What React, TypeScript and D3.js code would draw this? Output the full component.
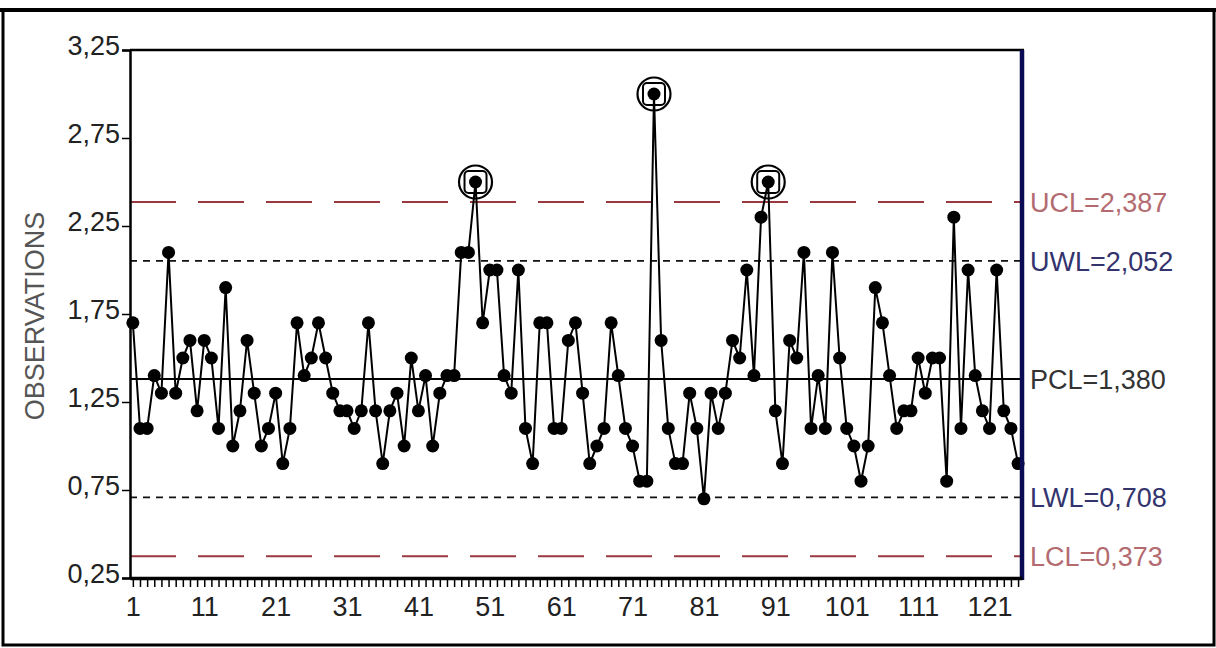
import React, { useEffect, useRef } from 'react';
import * as d3 from 'd3';

// observation values, one per sample (1..125)
const observations: number[] = [
  1.7, 1.1, 1.1, 1.4, 1.3, 2.1, 1.3, 1.5, 1.6, 1.2,
  1.6, 1.5, 1.1, 1.9, 1.0, 1.2, 1.6, 1.3, 1.0, 1.1,
  1.3, 0.9, 1.1, 1.7, 1.4, 1.5, 1.7, 1.5, 1.3, 1.2,
  1.2, 1.1, 1.2, 1.7, 1.2, 0.9, 1.2, 1.3, 1.0, 1.5,
  1.2, 1.4, 1.0, 1.3, 1.4, 1.4, 2.1, 2.1, 2.5, 1.7,
  2.0, 2.0, 1.4, 1.3, 2.0, 1.1, 0.9, 1.7, 1.7, 1.1,
  1.1, 1.6, 1.7, 1.3, 0.9, 1.0, 1.1, 1.7, 1.4, 1.1,
  1.0, 0.8, 0.8, 3.0, 1.6, 1.1, 0.9, 0.9, 1.3, 1.1,
  0.7, 1.3, 1.1, 1.3, 1.6, 1.5, 2.0, 1.4, 2.3, 2.5,
  1.2, 0.9, 1.6, 1.5, 2.1, 1.1, 1.4, 1.1, 2.1, 1.5,
  1.1, 1.0, 0.8, 1.0, 1.9, 1.7, 1.4, 1.1, 1.2, 1.2,
  1.5, 1.3, 1.5, 1.5, 0.8, 2.3, 1.1, 2.0, 1.4, 1.2,
  1.1, 2.0, 1.2, 1.1, 0.9,
];

const yTicks = [0.25, 0.75, 1.25, 1.75, 2.25, 2.75, 3.25];
const xTickLabels = [1, 11, 21, 31, 41, 51, 61, 71, 81, 91, 101, 111, 121];

const limitNames = ['UCL', 'UWL', 'PCL', 'LWL', 'LCL'];
const limitValues = [2.387, 2.052, 1.38, 0.708, 0.373];

const fmt = (v: number, digits: number) => v.toFixed(digits).replace('.', ',');

const App = () => {
  const ref = useRef<SVGSVGElement | null>(null);

  useEffect(() => {
    const width = 1216;
    const height = 648;
    const left = 130;
    const right = 1022;
    const top = 50;
    const bottom = 578;
    const font = 'Liberation Sans, Arial, sans-serif';

    const svg = d3.select(ref.current);
    svg.selectAll('*').remove();

    svg.append('rect').attr('width', width).attr('height', height).attr('fill', '#fff');

    // outer frame of the picture
    svg.append('rect')
      .attr('x', 3).attr('y', 10)
      .attr('width', 1211).attr('height', 635)
      .attr('fill', 'none')
      .attr('stroke', '#000')
      .attr('stroke-width', 3);
    svg.append('line').attr('x1', 0).attr('x2', width).attr('y1', 10).attr('y2', 10)
      .attr('stroke', '#000').attr('stroke-width', 4);

    const x = d3.scaleLinear().domain([0.6, observations.length + 0.55]).range([left, right]);
    const y = d3.scaleLinear().domain([0.25, 3.25]).range([bottom, top]);

    // limit lines
    const limitStyle: Record<string, { stroke: string; dash: string | null; width: number; label: string }> = {
      UCL: { stroke: '#9a3a40', dash: '46,22', width: 2, label: '#b36b70' },
      LCL: { stroke: '#9a3a40', dash: '46,22', width: 2, label: '#b36b70' },
      UWL: { stroke: '#111', dash: '7,6', width: 1.6, label: '#33336e' },
      LWL: { stroke: '#111', dash: '7,6', width: 1.6, label: '#33336e' },
      PCL: { stroke: '#000', dash: null, width: 2, label: '#333' },
    };

    limitNames.forEach((name, i) => {
      const st = limitStyle[name];
      const yy = y(limitValues[i]);
      svg.append('line')
        .attr('x1', left).attr('x2', right)
        .attr('y1', yy).attr('y2', yy)
        .attr('stroke', st.stroke)
        .attr('stroke-width', st.width)
        .attr('stroke-dasharray', st.dash);
      svg.append('text')
        .attr('x', right + 8)
        .attr('y', yy + 10)
        .attr('font-family', font)
        .attr('font-size', 27)
        .attr('fill', st.label)
        .text(`${name}=${fmt(limitValues[i], 3)}`);
    });

    // series line
    const line = d3.line<number>()
      .x((d, i) => x(i + 1))
      .y(d => y(d));

    svg.append('path')
      .datum(observations)
      .attr('d', line)
      .attr('fill', 'none')
      .attr('stroke', '#000')
      .attr('stroke-width', 2);

    svg.selectAll('.dot')
      .data(observations)
      .enter()
      .append('circle')
      .attr('class', 'dot')
      .attr('cx', (d, i) => x(i + 1))
      .attr('cy', d => y(d))
      .attr('r', 6.5)
      .attr('fill', '#000');

    // out-of-control markers
    const ucl = limitValues[0];
    const flagged = observations.map((v, i) => ({ v, i })).filter(p => p.v > ucl);
    const marks = svg.selectAll('.flag').data(flagged).enter().append('g')
      .attr('transform', p => `translate(${x(p.i + 1)},${y(p.v)})`);
    marks.append('circle').attr('r', 16.5).attr('fill', 'none').attr('stroke', '#000').attr('stroke-width', 2.2);
    marks.append('rect')
      .attr('x', -11).attr('y', -11).attr('width', 22).attr('height', 22).attr('rx', 4)
      .attr('fill', 'none').attr('stroke', '#000').attr('stroke-width', 2);

    // plot frame
    svg.append('line').attr('x1', left).attr('x2', right + 2).attr('y1', top).attr('y2', top)
      .attr('stroke', '#000').attr('stroke-width', 2.5);
    svg.append('line').attr('x1', right).attr('x2', right).attr('y1', top).attr('y2', bottom + 2)
      .attr('stroke', '#0b0b55').attr('stroke-width', 4.5);

    // y axis
    const yAxis = svg.append('g')
      .attr('transform', `translate(${left},0)`)
      .call(d3.axisLeft(y).tickValues(yTicks).tickSize(8).tickPadding(2).tickFormat(d => fmt(+d, 2)));
    yAxis.select('.domain').attr('stroke', '#000').attr('stroke-width', 2.5);
    yAxis.selectAll('.tick line').attr('stroke', '#000').attr('stroke-width', 1.5);
    yAxis.selectAll('text')
      .attr('font-family', font)
      .attr('font-size', 27)
      .attr('fill', '#222')
      .attr('dy', '0.15em');

    // x axis: tick at every sample, label every 10
    const xAxis = svg.append('g')
      .attr('transform', `translate(0,${bottom})`)
      .call(d3.axisBottom(x)
        .tickValues(d3.range(1, observations.length + 1))
        .tickSize(9)
        .tickPadding(10)
        .tickSizeOuter(0)
        .tickFormat(d => (xTickLabels.includes(+d) ? String(d) : '')));
    xAxis.select('.domain').attr('stroke', '#000').attr('stroke-width', 3.5);
    xAxis.selectAll('.tick line').attr('stroke', '#000').attr('stroke-width', 1.5);
    xAxis.selectAll('text')
      .attr('font-family', font)
      .attr('font-size', 27)
      .attr('fill', '#222');

    // axis title
    svg.append('text')
      .attr('transform', `translate(44,${(top + bottom) / 2 + 2}) rotate(-90)`)
      .attr('text-anchor', 'middle')
      .attr('font-family', font)
      .attr('font-size', 27)
      .attr('fill', '#555')
      .text('OBSERVATIONS');
  }, []);

  return (
    <svg
      ref={ref}
      width={1216}
      height={648}
      style={{ position: 'absolute', left: 0, top: 0, display: 'block' }}
    />
  );
};

export default App;
